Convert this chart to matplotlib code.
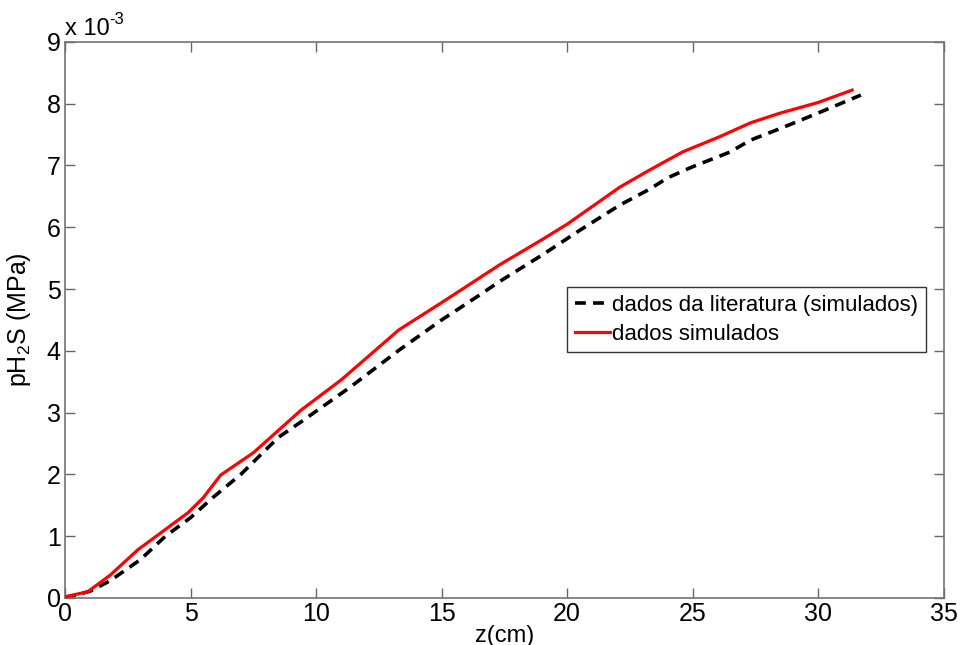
import matplotlib
matplotlib.use("Agg")
import matplotlib.pyplot as plt

plt.rcParams['font.family'] = ['Liberation Sans', 'DejaVu Sans']
plt.rcParams['mathtext.fontset'] = 'custom'
plt.rcParams['mathtext.rm'] = 'Liberation Sans'
plt.rcParams['mathtext.it'] = 'Liberation Sans'
plt.rcParams['mathtext.default'] = 'regular'

# values in units of 1e-3 MPa
z_lit = [0, 1.0, 1.8, 3.0, 4.0, 5.0, 5.9, 7.0, 8.5, 9.4, 11.35, 13.3, 15.0, 16.5,
         17.3, 19.0, 20.5, 22.1, 23.3, 24.0, 25.0, 26.5, 27.3, 28.5, 30.0, 31.7]
p_lit = [0.0, 0.11, 0.28, 0.62, 1.0, 1.3, 1.63, 2.0, 2.6, 2.85, 3.41, 4.01, 4.5, 4.9,
         5.12, 5.55, 5.95, 6.36, 6.62, 6.8, 6.98, 7.22, 7.41, 7.6, 7.85, 8.14]

z_sim = [0, 0.9, 1.8, 2.9, 3.7, 4.9, 5.5, 6.2, 7.5, 9.4, 11.0, 13.3, 15.0, 17.3,
         19.0, 20.0, 22.1, 23.3, 24.6, 26.1, 27.3, 28.5, 30.0, 31.35]
p_sim = [0.02, 0.10, 0.37, 0.78, 1.02, 1.38, 1.62, 1.99, 2.35, 3.04, 3.53, 4.34, 4.78, 5.39,
         5.80, 6.05, 6.65, 6.93, 7.22, 7.47, 7.69, 7.85, 8.02, 8.22]

labels = ['dados da literatura (simulados)', 'dados simulados']
xticks = [0, 5, 10, 15, 20, 25, 30, 35]
yticks = [0, 1, 2, 3, 4, 5, 6, 7, 8, 9]

fig = plt.figure(figsize=(9.62, 6.45), dpi=100)
ax = fig.add_axes([0.0676, 0.0729, 0.9134, 0.8621])

ax.plot(z_lit, p_lit, color='black', lw=2.6, linestyle=(0, (3, 2)), label=labels[0], zorder=2)
ax.plot(z_sim, p_sim, color='red', lw=2.3, label=labels[1], zorder=3)

ax.set_xlim(0, 35)
ax.set_ylim(0, 9)
ax.set_xticks(xticks)
ax.set_yticks(yticks)
ax.tick_params(direction='in', length=7, width=1, top=True, right=True,
               labelsize=18, color='0.4', pad=3)
for s in ax.spines.values():
    s.set_color('0.45')
    s.set_linewidth(1.2)

ax.set_xlabel('z(cm)', fontsize=17, labelpad=-1)
ax.set_ylabel('pH$_2$S (MPa)', fontsize=18, labelpad=10)

t = ax.text(0.0, 1.004, 'x 10', transform=ax.transAxes, fontsize=17,
            ha='left', va='bottom')
ax.annotate('-3', xy=(0.0, 1.004), xycoords='axes fraction', xytext=(31.5, 9),
            textcoords='offset points', fontsize=12, ha='left', va='bottom')

leg = ax.legend(loc='upper left', bbox_to_anchor=(0.571, 0.559), borderaxespad=0,
                fontsize=16, fancybox=False, framealpha=1, edgecolor='0.2',
                handlelength=1.6, handletextpad=0.1, borderpad=0.35, labelspacing=0.35)
leg.get_frame().set_linewidth(1.0)

fig.savefig('out.png', dpi=100)
